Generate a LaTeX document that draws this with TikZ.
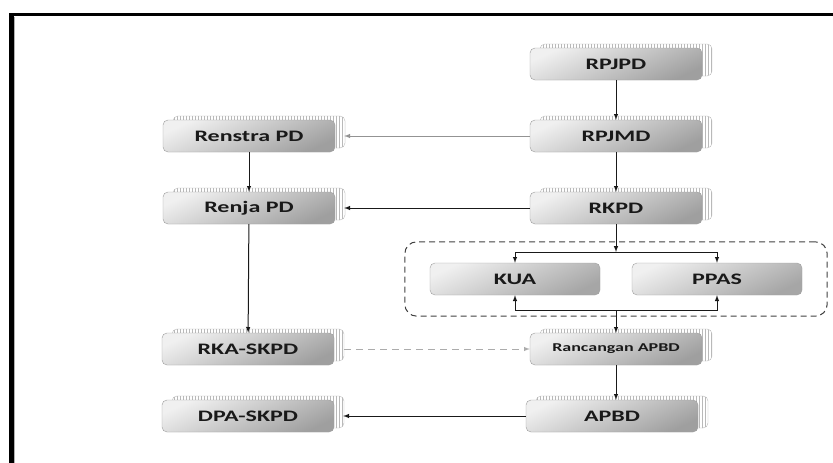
\documentclass[tikz,border=0pt]{standalone}
\usepackage{fontspec}
\setmainfont{Carlito}
\newfontfamily\boxfont[FakeStretch=1.5]{Carlito}
\usepackage{tikz}
\usetikzlibrary{positioning,fit,arrows,shadows,patterns}

\tikzset{
  box/.style={rectangle, rounded corners=5pt, minimum width=172pt, minimum height=32pt, inner sep=0pt,
    draw=gray!75, top color=gray!12, bottom color=gray!75, shading angle=25, text=black!90,
    font=\boxfont\bfseries\fontsize{16}{16}\selectfont,
    general shadow={shadow xshift=10pt, shadow yshift=4pt, draw=gray!55,
      preaction={fill=gray!25}, pattern=vertical lines, pattern color=gray!55}},
  flatbox/.style={rectangle, rounded corners=5pt, minimum width=170pt, minimum height=32pt, inner sep=0pt,
    draw=gray!75, top color=gray!12, bottom color=gray!70, shading angle=25, text=black!90,
    font=\boxfont\bfseries\fontsize{16}{16}\selectfont},
  grp/.style={draw=black!75, dash pattern=on 6pt off 4pt, rounded corners=12pt, line width=1pt},
  arr/.style={->, >=latex, black!90, line width=1pt},
  arrg/.style={->, >=latex, gray!85, line width=1pt},
  arrd/.style={->, >=latex, gray!65, line width=1pt, dash pattern=on 7pt off 5pt}
}

\begin{document}
\begin{tikzpicture}[x=1pt,y=-1pt]
\useasboundingbox (0,0) rectangle (833,463);
% frame
\fill[black] (9,13) rectangle (14,463);
\fill[black] (9,13) rectangle (833,16);
\draw[gray!60] (14.5,16.5) -- (14.5,463);

% right column
\node[box] (rpjpd) at (616,64) {RPJPD};
\node[box] (rpjmd) at (616,136) {RPJMD};
\node[box] (rkpd) at (616,208) {RKPD};
\node[flatbox] (kua) at (515,279) {KUA};
\node[flatbox] (ppas) at (717,279) {PPAS};
\node[box, font=\boxfont\bfseries\fontsize{12}{12}\selectfont] (rancangan) at (616,349) {Rancangan APBD};
\node[box] (apbd) at (612,416) {APBD};

% left column
\node[box] (renstra) at (249,136) {Renstra PD};
\node[box] (renja) at (249,208) {Renja PD};
\node[box] (rka) at (248,349) {RKA-SKPD};
\node[box] (dpa) at (248,416) {DPA-SKPD};

\node[grp, fit=(kua)(ppas), inner xsep=25pt, inner ysep=21pt] (anggaran) {};
\coordinate (bagi) at (616,252);
\coordinate (gabung) at (616,310);

\draw[arr] (rpjpd) -- (rpjmd);
\draw[arr] (rpjmd) -- (rkpd);
\draw[arr] (rkpd) -- (bagi);
\draw[arr] (bagi) -| (kua);
\draw[arr] (bagi) -| (ppas);
\draw[arr] (gabung) -| (kua);
\draw[arr] (gabung) -| (ppas);
\draw[arr] (gabung) -- (rancangan);
\draw[arr] (rancangan.south) -- (rancangan.south |- apbd.north);

\draw[arrg] (rpjmd.west) -- ([xshift=9pt]renstra.east);
\draw[arr] (rkpd.west) -- ([xshift=9pt]renja.east);
\draw[arr] (renstra) -- (renja);
\draw[arr] (renja) -- (rka);
\draw[arrd] ([xshift=10pt]rka.east) -- (rancangan.west);
\draw[arr] (apbd.west) -- ([xshift=9pt]dpa.east);
\end{tikzpicture}
\end{document}
